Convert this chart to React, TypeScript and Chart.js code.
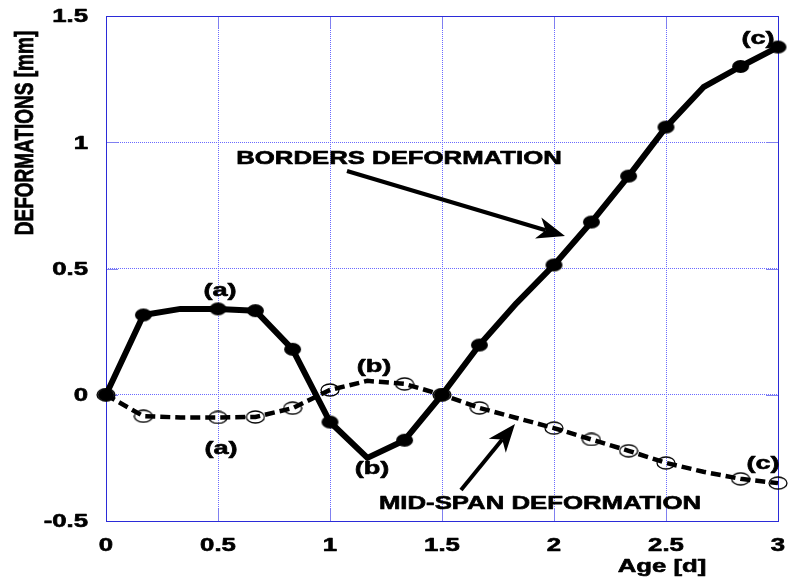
import { useEffect, useRef } from "react";
import { Chart, registerables } from "chart.js";

Chart.register(...registerables);

// ---- data ----
const ages = [0, 0.167, 0.333, 0.5, 0.667, 0.833, 1, 1.167, 1.333, 1.5, 1.667, 1.833, 2, 2.167, 2.333, 2.5, 2.667, 2.833, 3];
const bordersDeformation = [0, 0.316, 0.34, 0.34, 0.333, 0.18, -0.108, -0.25, -0.18, 0, 0.197, 0.363, 0.514, 0.684, 0.866, 1.06, 1.218, 1.3, 1.377];
const midSpanDeformation = [0, -0.085, -0.09, -0.09, -0.088, -0.053, 0.019, 0.055, 0.043, 0, -0.052, -0.092, -0.132, -0.177, -0.222, -0.27, -0.305, -0.333, -0.35];
const unmarkedPoints = [2, 7, 11, 16];
const xTicks = [0, 0.5, 1, 1.5, 2, 2.5, 3];
const xTickLabels = ["0", "0.5", "1", "1.5", "2", "2.5", "3"];
const yTicks = [-0.5, 0, 0.5, 1, 1.5];
const yTickLabels = ["-0.5", "0", "0.5", "1", "1.5"];
const xTitle = "Age [d]";
const yTitle = "DEFORMATIONS [mm]";
const bordersLabel = "BORDERS DEFORMATION";
const midSpanLabel = "MID-SPAN DEFORMATION";

const FONT = '"Liberation Sans", Arial, Helvetica, sans-serif';
const SX = 1.43;
const BLUE = "#2b2bd8";

function text(ctx: CanvasRenderingContext2D, s: string, x: number, capY: number, size: number, align: CanvasTextAlign, sx = SX) {
  ctx.save();
  ctx.font = `bold ${size}px ${FONT}`;
  ctx.fillStyle = "#000";
  ctx.strokeStyle = "#000";
  ctx.lineWidth = 0.6;
  ctx.lineJoin = "round";
  ctx.textAlign = align;
  ctx.textBaseline = "alphabetic";
  ctx.translate(x, capY + 0.358 * size);
  ctx.scale(sx, 1);
  ctx.fillText(s, 0, 0);
  ctx.strokeText(s, 0, 0);
  ctx.restore();
}

function arrow(ctx: CanvasRenderingContext2D, x0: number, y0: number, x1: number, y1: number) {
  const dx = x1 - x0, dy = y1 - y0;
  const L = Math.hypot(dx, dy);
  const ux = dx / L, uy = dy / L;
  const px = -uy, py = ux;
  const headLen = 28, headHalf = 11;
  const bx = x1 - ux * headLen, by = y1 - uy * headLen;
  const nx = x1 - ux * headLen * 0.72, ny = y1 - uy * headLen * 0.72;
  ctx.save();
  ctx.strokeStyle = "#000";
  ctx.fillStyle = "#000";
  ctx.lineWidth = 4;
  ctx.beginPath();
  ctx.moveTo(x0, y0);
  ctx.lineTo(nx, ny);
  ctx.stroke();
  ctx.beginPath();
  ctx.moveTo(x1, y1);
  ctx.lineTo(bx + px * headHalf, by + py * headHalf);
  ctx.lineTo(nx, ny);
  ctx.lineTo(bx - px * headHalf, by - py * headHalf);
  ctx.closePath();
  ctx.fill();
  ctx.restore();
}

function ellipseMarker(w: number, h: number, filled: boolean) {
  const c = document.createElement("canvas");
  c.width = w + 2;
  c.height = h + 2;
  const g = c.getContext("2d")!;
  g.beginPath();
  g.ellipse(c.width / 2, c.height / 2, w / 2, h / 2, 0, 0, Math.PI * 2);
  if (filled) {
    g.fillStyle = "#000";
    g.fill();
  } else {
    g.strokeStyle = "#000";
    g.lineWidth = 1.3;
    g.stroke();
  }
  return c;
}

const decorPlugin = {
  id: "decor",
  beforeDatasetsDraw(chart: any) {
    const { ctx, chartArea: a } = chart;
    ctx.save();
    ctx.strokeStyle = "#8080f0";
    ctx.lineWidth = 1;
    const ys = chart.scales.y, xs = chart.scales.x;
    yTicks.forEach((v) => {
      const y = Math.round(ys.getPixelForValue(v)) + 0.5;
      ctx.beginPath();
      ctx.moveTo(a.left, y);
      ctx.lineTo(a.left + 12, y);
      ctx.moveTo(a.right, y);
      ctx.lineTo(a.right - 12, y);
      ctx.stroke();
    });
    xTicks.forEach((v) => {
      const x = Math.round(xs.getPixelForValue(v)) + 0.5;
      ctx.beginPath();
      ctx.moveTo(x, a.bottom);
      ctx.lineTo(x, a.bottom - 12);
      ctx.moveTo(x, a.top);
      ctx.lineTo(x, a.top + 12);
      ctx.stroke();
    });
    ctx.strokeStyle = BLUE;
    ctx.lineWidth = 1;
    ctx.strokeRect(Math.round(a.left) + 0.5, Math.round(a.top) + 0.5, Math.round(a.right - a.left), Math.round(a.bottom - a.top));
    ctx.restore();
  },
  afterDraw(chart: any) {
    const { ctx } = chart;
    const xs = chart.scales.x, ys = chart.scales.y;
    yTicks.forEach((v, i) => text(ctx, yTickLabels[i], 88, ys.getPixelForValue(v), 18, "right"));
    xTicks.forEach((v, i) => text(ctx, xTickLabels[i], xs.getPixelForValue(v), 545, 18, "center"));
    text(ctx, xTitle, 662, 566, 18, "center");
    ctx.save();
    ctx.font = `bold 19px ${FONT}`;
    ctx.fillStyle = "#000";
    ctx.strokeStyle = "#000";
    ctx.lineWidth = 0.6;
    ctx.textAlign = "center";
    ctx.textBaseline = "alphabetic";
    ctx.translate(24, 133);
    ctx.rotate(-Math.PI / 2);
    ctx.scale(1, 1.35);
    ctx.fillText(yTitle, 0, 0.358 * 19);
    ctx.strokeText(yTitle, 0, 0.358 * 19);
    ctx.restore();
    text(ctx, bordersLabel, 399, 158, 18, "center");
    text(ctx, midSpanLabel, 540, 503, 18, "center");
    text(ctx, "(a)", 220, 289, 19, "center");
    text(ctx, "(a)", 221, 447, 19, "center");
    text(ctx, "(b)", 374, 365, 19, "center");
    text(ctx, "(b)", 372, 467, 19, "center");
    text(ctx, "(c)", 758, 37, 19, "center");
    text(ctx, "(c)", 763, 462, 19, "center");
    arrow(ctx, 347, 171, 565, 236);
    arrow(ctx, 461, 490, 515, 424);
  },
};

export default function App() {
  const ref = useRef<HTMLCanvasElement | null>(null);
  useEffect(() => {
    if (!ref.current) return;
    const filled = ellipseMarker(17, 13, true);
    const open = ellipseMarker(18, 12, false);
    const radius = (c: any) => (unmarkedPoints.includes(c.dataIndex) ? 0 : 6);
    const grid = {
      color: "#6a6aff",
      lineWidth: 1,
      drawTicks: false,
    };
    const chart = new Chart(ref.current, {
      type: "line",
      data: {
        datasets: [
          {
            label: bordersLabel,
            data: ages.map((x, i) => ({ x, y: bordersDeformation[i] })),
            borderColor: "#000",
            backgroundColor: "#000",
            borderWidth: 6,
            borderJoinStyle: "round",
            pointStyle: filled as any,
            pointRadius: radius,
            tension: 0,
            clip: false as any,
            order: 0,
          },
          {
            label: midSpanLabel,
            data: ages.map((x, i) => ({ x, y: midSpanDeformation[i] })),
            borderColor: "#000",
            backgroundColor: "transparent",
            borderWidth: 4.5,
            borderDash: [10, 5],
            pointStyle: open as any,
            pointRadius: radius,
            tension: 0,
            clip: false as any,
            order: 1,
          },
        ],
      },
      options: {
        animation: false,
        responsive: false,
        layout: { padding: { left: 106, right: 9, top: 16, bottom: 64 } },
        plugins: { legend: { display: false }, tooltip: { enabled: false } },
        scales: {
          x: {
            type: "linear",
            min: 0,
            max: 3,
            ticks: { display: false, stepSize: 0.5 },
            grid: grid as any,
            border: { display: false, dash: [1, 1] } as any,
          },
          y: {
            type: "linear",
            min: -0.5,
            max: 1.5,
            ticks: { display: false, stepSize: 0.5 },
            grid: grid as any,
            border: { display: false, dash: [1, 1] } as any,
          },
        },
      },
      plugins: [decorPlugin],
    });
    return () => chart.destroy();
  }, []);
  return (
    <div style={{ position: "absolute", left: 0, top: 0, width: 790, height: 585, background: "#fff" }}>
      <canvas ref={ref} width={790} height={585} />
    </div>
  );
}
